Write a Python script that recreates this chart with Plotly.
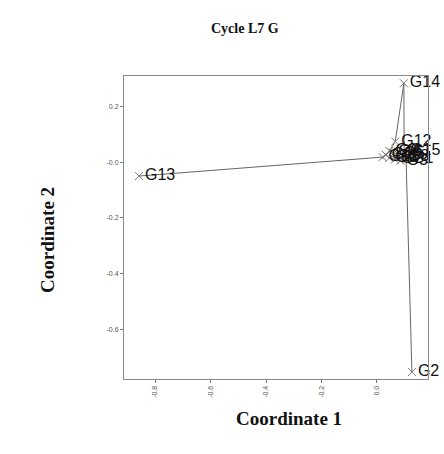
import plotly.graph_objects as go

# Data: point labels and coordinates
labels = ["G1", "G2", "G3", "G4", "G5", "G6", "G7", "G8",
          "G9", "G10", "G11", "G12", "G13", "G14", "G15"]
coord1 = [0.105, 0.126, 0.085, 0.055, 0.075, 0.045, 0.065, 0.090,
          0.045, 0.032, 0.020, 0.066, -0.858, 0.097, 0.098]
coord2 = [0.010, -0.753, 0.005, 0.035, 0.030, 0.015, 0.010, 0.020,
          0.040, 0.026, 0.018, 0.074, -0.050, 0.283, 0.040]
path_order = ["G13", "G11", "G10", "G9", "G12", "G14", "G15", "G3",
              "G4", "G5", "G6", "G7", "G8", "G1", "G2"]

x_ticks = [-0.8, -0.6, -0.4, -0.2, 0.0]
x_ticktext = ["-0.8", "-0.6", "-0.4", "-0.2", "0.0"]
y_ticks = [0.2, 0.0, -0.2, -0.4, -0.6]
y_ticktext = ["0.2", "-0.0", "-0.2", "-0.4", "-0.6"]

idx = {l: i for i, l in enumerate(labels)}
px_ = [coord1[idx[l]] for l in path_order]
py_ = [coord2[idx[l]] for l in path_order]

fig = go.Figure()
fig.add_trace(go.Scatter(
    x=px_, y=py_, mode="lines",
    line=dict(color="#666666", width=1),
    hoverinfo="skip", showlegend=False, cliponaxis=False))
fig.add_trace(go.Scatter(
    x=coord1, y=coord2, mode="markers+text",
    text=labels, textposition="middle right",
    textfont=dict(family="Liberation Sans, Arial", size=16, color="#111111"),
    marker=dict(symbol="x-thin", size=8, color="#777777",
                line=dict(color="#777777", width=1)),
    showlegend=False, cliponaxis=False))

axis_common = dict(
    showgrid=False, zeroline=False, showline=True, mirror=True,
    linecolor="#888888", linewidth=1,
    ticks="outside", ticklen=3, tickcolor="#777777",
    tickfont=dict(family="Liberation Sans, Arial", size=7, color="#555555"),
)

fig.update_layout(
    width=444, height=454,
    margin=dict(l=124, r=16, t=76, b=75),
    paper_bgcolor="white", plot_bgcolor="white",
    xaxis=dict(range=[-0.912, 0.184], tickvals=x_ticks, ticktext=x_ticktext,
               tickangle=-90, **axis_common),
    yaxis=dict(range=[-0.778, 0.309], tickvals=y_ticks, ticktext=y_ticktext,
               **axis_common),
)

plot_l, plot_r, plot_t, plot_b = 124, 428, 76, 379
def to_paper_x(px):
    return (px - plot_l) / (plot_r - plot_l)
def to_paper_y(py):
    return (plot_b - py) / (plot_b - plot_t)

fig.add_annotation(text="<b>Cycle L7 G</b>", x=to_paper_x(245), y=to_paper_y(28),
                   xref="paper", yref="paper", showarrow=False,
                   xanchor="center", yanchor="middle",
                   font=dict(family="Liberation Serif", size=14, color="#111111"))
fig.add_annotation(text="<b>Coordinate 1</b>", x=to_paper_x(289), y=to_paper_y(418),
                   xref="paper", yref="paper", showarrow=False,
                   xanchor="center", yanchor="middle",
                   font=dict(family="Liberation Serif", size=19, color="#111111"))
fig.add_annotation(text="<b>Coordinate 2</b>", x=to_paper_x(47), y=to_paper_y(240),
                   xref="paper", yref="paper", showarrow=False, textangle=-90,
                   xanchor="center", yanchor="middle",
                   font=dict(family="Liberation Serif", size=19, color="#111111"))

fig.write_html("out.html")
